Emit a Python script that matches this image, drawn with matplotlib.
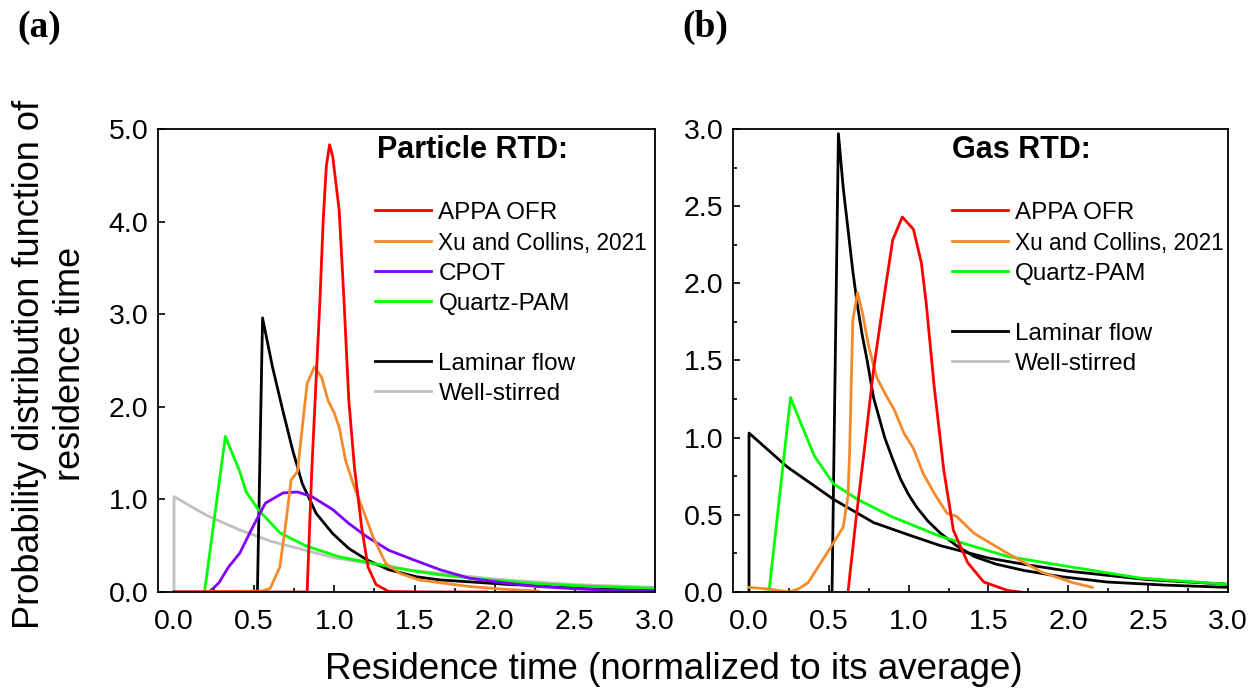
import matplotlib
matplotlib.use("Agg")
import matplotlib.pyplot as plt
from matplotlib.lines import Line2D
from matplotlib.ticker import MultipleLocator

plt.rcParams['font.family'] = ['Liberation Sans', 'DejaVu Sans']

# ---------------- data: panel (a) particle RTD ----------------
a_appa_t = [0, 0.83, 0.86, 0.89, 0.91, 0.93, 0.95, 0.97, 0.99, 1.03, 1.06, 1.09, 1.125, 1.17, 1.21, 1.26, 1.34, 1.6, 1.95]
a_appa_e = [0, 0, 1.35, 2.43, 3.15, 4.0, 4.6, 4.83, 4.7, 4.12, 3.15, 2.07, 1.35, 0.70, 0.27, 0.08, 0.005, 0, 0]

a_xu_t = [0, 0.55, 0.60, 0.66, 0.70, 0.73, 0.77, 0.80, 0.83, 0.875, 0.92, 0.96, 1.0, 1.03, 1.07,
          1.125, 1.18, 1.24, 1.32, 1.41, 1.53, 1.66, 1.84, 2.05, 2.27]
a_xu_e = [0, 0.01, 0.04, 0.27, 0.78, 1.21, 1.30, 1.78, 2.25, 2.43, 2.32, 2.07, 1.93, 1.78, 1.42,
          1.13, 0.88, 0.60, 0.31, 0.20, 0.13, 0.10, 0.06, 0.03, 0.01]

a_cpot_t = [0, 0.22, 0.28, 0.34, 0.41, 0.49, 0.57, 0.68, 0.77, 0.86, 0.99, 1.09, 1.2, 1.34,
            1.49, 1.66, 1.84, 2.05, 2.26, 2.5, 2.68, 3.0]
a_cpot_e = [0, 0.0, 0.1, 0.27, 0.42, 0.70, 0.96, 1.07, 1.08, 1.03, 0.89, 0.74, 0.60, 0.45,
            0.35, 0.24, 0.15, 0.1, 0.06, 0.035, 0.02, 0.01]

a_qpam_t = [0, 0.19, 0.32, 0.41, 0.45, 0.53, 0.66, 0.82, 1.03, 1.24, 1.45, 1.64, 1.9, 2.26, 2.6, 3.0]
a_qpam_e = [0, 0, 1.68, 1.30, 1.08, 0.88, 0.64, 0.50, 0.38, 0.31, 0.24, 0.19, 0.14, 0.09, 0.06, 0.04]

a_lam_t = [0.52, 0.552, 0.614, 0.677, 0.74, 0.80, 0.886, 0.99, 1.09, 1.2, 1.34, 1.51, 1.66, 1.84, 2.1, 2.47, 2.7, 3.0]
a_lam_e = [0, 2.96, 2.43, 1.97, 1.53, 1.17, 0.85, 0.63, 0.47, 0.35, 0.24, 0.165, 0.13, 0.11, 0.08, 0.06, 0.045, 0.03]

a_ws_t = [0, 0, 0.2, 0.41, 0.6, 0.82, 1.0, 1.24, 1.5, 2.0, 2.5, 3.0]
a_ws_e = [0, 1.03, 0.83, 0.67, 0.55, 0.45, 0.37, 0.30, 0.23, 0.14, 0.08, 0.05]

# ---------------- data: panel (b) gas RTD ----------------
b_appa_t = [0.62, 0.67, 0.72, 0.78, 0.85, 0.90, 0.96, 1.03, 1.08, 1.11, 1.16, 1.22, 1.28, 1.37, 1.47, 1.62, 1.70]
b_appa_e = [0, 0.47, 0.9, 1.44, 1.94, 2.28, 2.43, 2.35, 2.13, 1.87, 1.33, 0.79, 0.40, 0.19, 0.065, 0.01, 0.0]

b_xu_t = [0, 0.12, 0.25, 0.31, 0.37, 0.45, 0.53, 0.59, 0.62, 0.63, 0.64, 0.65, 0.68, 0.71, 0.75, 0.80,
          0.85, 0.91, 0.97, 1.03, 1.09, 1.16, 1.24, 1.30, 1.41, 1.62, 1.83, 2.03, 2.15]
b_xu_e = [0.03, 0.02, 0.0, 0.02, 0.06, 0.19, 0.32, 0.42, 0.62, 0.9, 1.33, 1.76, 1.94, 1.81, 1.59, 1.39,
          1.29, 1.18, 1.03, 0.93, 0.77, 0.64, 0.51, 0.49, 0.38, 0.25, 0.13, 0.06, 0.03]

b_qpam_t = [0.1, 0.125, 0.26, 0.33, 0.41, 0.53, 0.68, 0.89, 1.2, 1.62, 2.03, 2.45, 3.0]
b_qpam_e = [0, 0, 1.26, 1.08, 0.88, 0.70, 0.60, 0.49, 0.36, 0.23, 0.16, 0.09, 0.05]

b_lam_t = [0.52, 0.56, 0.59, 0.62, 0.65, 0.68, 0.71, 0.74, 0.78, 0.85, 0.90, 0.95, 1.0, 1.05,
           1.12, 1.2, 1.3, 1.41, 1.55, 1.72, 1.95, 2.24, 2.6, 3.0]
b_lam_e = [0, 2.97, 2.62, 2.35, 2.08, 1.85, 1.66, 1.50, 1.26, 1.0, 0.86, 0.73, 0.63, 0.55,
           0.46, 0.38, 0.30, 0.23, 0.18, 0.14, 0.10, 0.065, 0.045, 0.03]

b_ws_t = [0, 0, 0.24, 0.53, 0.78, 1.0, 1.2, 1.5, 1.72, 2.0, 2.5, 3.0]
b_ws_e = [0, 1.03, 0.81, 0.6, 0.45, 0.37, 0.30, 0.22, 0.18, 0.135, 0.08, 0.05]

x_ticks = [0.0, 0.5, 1.0, 1.5, 2.0, 2.5, 3.0]
a_yticks = [0.0, 1.0, 2.0, 3.0, 4.0, 5.0]
b_yticks = [0.0, 0.5, 1.0, 1.5, 2.0, 2.5, 3.0]

C_RED = '#FF0000'
C_ORANGE = '#F58A2C'
C_PURPLE = '#8000FF'
C_GREEN = '#00FF00'
C_GRAY = '#C0C0C0'
C_BLACK = '#000000'
LW = 2.0

fig = plt.figure(figsize=(12.52, 6.95), dpi=100)
axa = fig.add_axes([0.1262, 0.1482, 0.5232 - 0.1262, 0.8144 - 0.1482])
axb = fig.add_axes([0.5855, 0.1482, 0.9808 - 0.5855, 0.8144 - 0.1482])

# panel a
axa.plot(a_ws_t, a_ws_e, color=C_GRAY, lw=LW)
axa.plot(a_lam_t, a_lam_e, color=C_BLACK, lw=LW)
axa.plot(a_qpam_t, a_qpam_e, color=C_GREEN, lw=LW)
axa.plot(a_cpot_t, a_cpot_e, color=C_PURPLE, lw=LW)
axa.plot(a_xu_t, a_xu_e, color=C_ORANGE, lw=LW)
axa.plot(a_appa_t, a_appa_e, color=C_RED, lw=LW)

# panel b
axb.plot(b_ws_t, b_ws_e, color=C_BLACK, lw=LW)
axb.plot(b_lam_t, b_lam_e, color=C_BLACK, lw=LW)
axb.plot(b_qpam_t, b_qpam_e, color=C_GREEN, lw=LW)
axb.plot(b_xu_t, b_xu_e, color=C_ORANGE, lw=LW)
axb.plot(b_appa_t, b_appa_e, color=C_RED, lw=LW)

TICK_FS = 20.5
for ax, yt, ymax in ((axa, a_yticks, 5.0), (axb, b_yticks, 3.0)):
    ax.set_xlim(-0.1, 3.0)
    ax.set_ylim(0, ymax)
    ax.set_xticks(x_ticks)
    ax.set_xticklabels([f"{v:.1f}" for v in x_ticks])
    ax.set_yticks(yt)
    ax.set_yticklabels([f"{v:.1f}" for v in yt])
    ax.xaxis.set_minor_locator(MultipleLocator(0.25))
    ax.tick_params(which='both', direction='in', top=False, right=False, width=1.2,
                   labelsize=TICK_FS)
    ax.tick_params(axis='x', which='both', pad=12)
    ax.tick_params(axis='y', which='both', pad=7)
    ax.tick_params(which='major', length=5)
    ax.tick_params(which='minor', length=3)
    for s in ax.spines.values():
        s.set_linewidth(1.3)
axb.yaxis.set_minor_locator(MultipleLocator(0.25))

LEG_FS = 17.5
def mk(c):
    return Line2D([], [], color=c, lw=LW)
blank = Line2D([], [], color='none')

ha = [mk(C_RED), mk(C_ORANGE), mk(C_PURPLE), mk(C_GREEN), blank, mk(C_BLACK), mk(C_GRAY)]
la = ['APPA OFR', 'Xu and Collins, 2021', 'CPOT', 'Quartz-PAM', ' ', 'Laminar flow', 'Well-stirred']
lega = axa.legend(ha, la, loc='upper left', bbox_to_anchor=(0.437, 0.843), frameon=False,
                  fontsize=LEG_FS, handlelength=2.3, handletextpad=0.3, labelspacing=0.33,
                  borderpad=0, borderaxespad=0)

hb = [mk(C_RED), mk(C_ORANGE), mk(C_GREEN), blank, mk(C_BLACK), mk(C_GRAY)]
lb = ['APPA OFR', 'Xu and Collins, 2021', 'Quartz-PAM', ' ', 'Laminar flow', 'Well-stirred']
legb = axb.legend(hb, lb, loc='upper left', bbox_to_anchor=(0.442, 0.843), frameon=False,
                  fontsize=LEG_FS, handlelength=2.3, handletextpad=0.3, labelspacing=0.33,
                  borderpad=0, borderaxespad=0)
for leg in (lega, legb):
    leg.get_texts()[1].set_fontsize(16.3)

axa.text(0.44, 0.955, 'Particle RTD:', transform=axa.transAxes, fontsize=22,
         fontweight='bold', ha='left', va='center')
axb.text(0.442, 0.955, 'Gas RTD:', transform=axb.transAxes, fontsize=22,
         fontweight='bold', ha='left', va='center')

fig.text(0.014, 0.961, '(a)', fontsize=27, fontweight='bold',
         family=['Liberation Serif', 'DejaVu Serif'], ha='left', va='center')
fig.text(0.545, 0.961, '(b)', fontsize=27, fontweight='bold',
         family=['Liberation Serif', 'DejaVu Serif'], ha='left', va='center')

fig.text(0.04, 0.476, 'Probability distribution function of\nresidence time', rotation=90,
         fontsize=26, ha='center', va='center', multialignment='center', linespacing=1.2)
fig.text(0.538, 0.036, 'Residence time (normalized to its average)', fontsize=26.5,
         ha='center', va='center')

fig.savefig('out.png', dpi=100)
